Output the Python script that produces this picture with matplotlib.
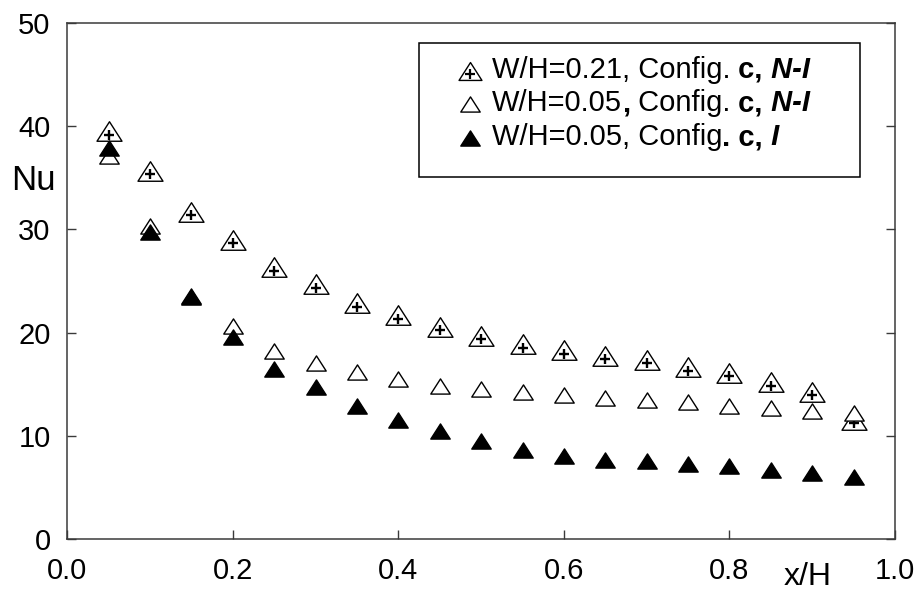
import matplotlib
matplotlib.use('Agg')
import matplotlib.pyplot as plt
from matplotlib.path import Path
from matplotlib.transforms import offset_copy
from matplotlib.offsetbox import TextArea, HPacker, AnchoredOffsetbox
from matplotlib.patches import Rectangle

# ---------------- data ----------------
x_h = [0.05, 0.10, 0.15, 0.20, 0.25, 0.30, 0.35, 0.40, 0.45, 0.50,
       0.55, 0.60, 0.65, 0.70, 0.75, 0.80, 0.85, 0.90, 0.95]
nu_w021_ni = [39.5, 35.7, 31.7, 29.0, 26.35, 24.7, 22.85, 21.7, 20.6, 19.7,
              18.9, 18.3, 17.75, 17.4, 16.65, 16.1, 15.2, 14.3, 11.55]
nu_w005_ni = [37.1, 30.3, 23.6, 20.65, 18.2, 17.05, 16.15, 15.5, 14.85, 14.55,
              14.25, 13.95, 13.7, 13.45, 13.25, 12.95, 12.75, 12.45, 12.25]
nu_w005_i = [37.9, 29.7, 23.5, 19.6, 16.5, 14.75, 12.95, 11.55, 10.5, 9.55,
             8.65, 8.05, 7.7, 7.55, 7.25, 7.05, 6.75, 6.45, 6.0]

x_ticks = [0.0, 0.2, 0.4, 0.6, 0.8, 1.0]
x_tick_labels = ['0.0', '0.2', '0.4', '0.6', '0.8', '1.0']
y_ticks = [0, 10, 20, 30, 40, 50]
y_tick_labels = ['0', '10', '20', '30', '40', '50']

# legend text pieces: (text, weight, style)
legend_rows = [
    [("W/H=0.21, Config.", 'normal', 'normal'), (" c,", 'bold', 'normal'),
     (" N-I", 'bold', 'italic')],
    [("W/H=0.05", 'normal', 'normal'), (",", 'bold', 'normal'),
     (" Config.", 'normal', 'normal'), (" c,", 'bold', 'normal'),
     (" N-I", 'bold', 'italic')],
    [("W/H=0.05, Config", 'normal', 'normal'), (". c,", 'bold', 'normal'),
     (" I", 'bold', 'italic')],
]

# ---------------- style ----------------
plt.rcParams['font.family'] = ['Liberation Sans', 'DejaVu Sans']
W, H = 919, 591
fig = plt.figure(figsize=(W / 100, H / 100), dpi=100)
L, R, T, B = 67.3, 895.0, 22.8, 539.3
ax = fig.add_axes([L / W, 1 - B / H, (R - L) / W, (B - T) / H])

tri = Path([(0, 0.78), (-1, -0.78), (1, -0.78), (0, 0.78)], closed=True)
spine_c = '#3a3a3a'

# series 1: triangles with plus
ax.plot(x_h, nu_w021_ni, ls='none', marker=tri, ms=18, mfc='white',
        mec='black', mew=1.0, zorder=3)
plus_tr = offset_copy(ax.transData, fig=fig, x=0, y=-2.5, units='points')
ax.plot(x_h, nu_w021_ni, ls='none', marker='+', ms=7.5, mec='black',
        mew=1.7, transform=plus_tr, zorder=3.1)
# series 2: open triangles
ax.plot(x_h, nu_w005_ni, ls='none', marker=tri, ms=14, mfc='white',
        mec='black', mew=1.0, zorder=4)
# series 3: filled triangles
ax.plot(x_h, nu_w005_i, ls='none', marker=tri, ms=14, mfc='black',
        mec='black', mew=1.0, zorder=5)

ax.set_xlim(0, 1)
ax.set_ylim(0, 50)
ax.set_autoscale_on(False)
ax.set_xticks(x_ticks)
ax.set_xticklabels(x_tick_labels)
ax.set_yticks(y_ticks)
ax.set_yticklabels(y_tick_labels)
ax.tick_params(axis='both', direction='in', length=6.5, width=1.0,
               color=spine_c, labelsize=21, right=True, top=False)
ax.tick_params(axis='x', pad=13)
ax.tick_params(axis='y', pad=12)
for s in ax.spines.values():
    s.set_color(spine_c)
    s.set_linewidth(1.1)

fig.text(33 / W, 1 - 181 / H, 'Nu', fontsize=25, ha='center', va='center')
fig.text(808 / W, 1 - 577 / H, 'x/H', fontsize=23, ha='center', va='center')

# ---------------- legend ----------------
lx0, lx1, ly0, ly1 = 419, 860, 43, 177
ax.add_patch(Rectangle((lx0 / W, 1 - ly1 / H), (lx1 - lx0) / W,
                       (ly1 - ly0) / H, transform=fig.transFigure,
                       facecolor='white', edgecolor='black', lw=1.1,
                       zorder=10, clip_on=False))
row_y = [71, 104, 138]
mk_x = 470
text_x = 492
leg_styles = [
    dict(ms=16.5, mfc='white'),
    dict(ms=14, mfc='white'),
    dict(ms=14, mfc='black'),
]
for i, (ry, st) in enumerate(zip(row_y, leg_styles)):
    fx, fy = mk_x / W, 1 - ry / H
    ax.plot([fx], [fy], ls='none', marker=tri, mec='black', mew=1.0,
            transform=fig.transFigure, clip_on=False, zorder=11, **st)
    if i == 0:
        ptr = offset_copy(fig.transFigure, fig=fig, x=0, y=-2.3, units='points')
        ax.plot([fx], [fy], ls='none', marker='+', ms=7, mec='black',
                mew=1.6, transform=ptr, clip_on=False, zorder=12)
    pieces = [TextArea(t, textprops=dict(fontsize=21, fontweight=w,
                                         fontstyle=s, color='black'))
              for (t, w, s) in legend_rows[i]]
    box = HPacker(children=pieces, align='baseline', pad=0, sep=0)
    anch = AnchoredOffsetbox(loc='center left', child=box, pad=0,
                             borderpad=0, frameon=False,
                             bbox_to_anchor=(text_x / W, 1 - (ry - 1) / H),
                             bbox_transform=fig.transFigure)
    anch.set_zorder(12)
    anch.set_clip_on(False)
    ax.add_artist(anch)

fig.savefig('out.png', dpi=100)
